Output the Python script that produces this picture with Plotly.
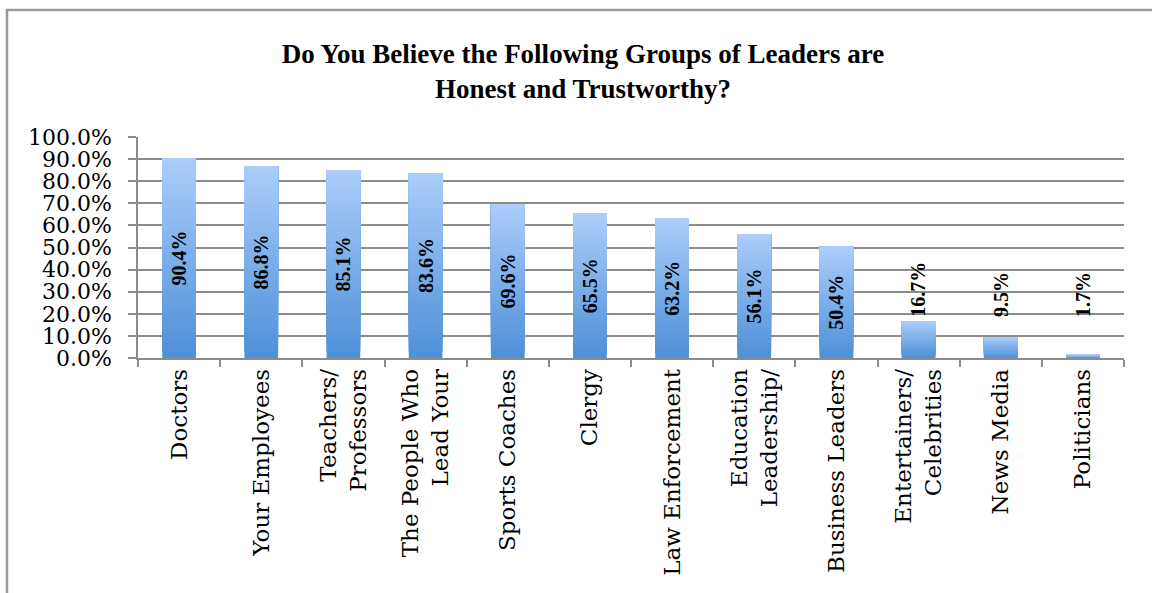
import plotly.graph_objects as go

categories = ["Doctors", "Your Employees", "Teachers/<br>Professors", "The People Who<br>Lead Your",
              "Sports Coaches", "Clergy", "Law Enforcement", "Education<br>Leadership/",
              "Business Leaders", "Entertainers/<br>Celebrities", "News Media", "Politicians"]
values = [90.4, 86.8, 85.1, 83.6, 69.6, 65.5, 63.2, 56.1, 50.4, 16.7, 9.5, 1.7]
y_ticks = [0, 10, 20, 30, 40, 50, 60, 70, 80, 90, 100]
title_text = "Do You Believe the Following Groups of Leaders are<br>Honest and Trustworthy?"

BAR_W = 0.41
N_BANDS = 32
BOTTOM = (79, 144, 216)
TOP = (170, 205, 250)
INSIDE_MIN = 30      # bars at least this tall carry their label inside
OUT_LABEL_Y = 17.8   # level where Excel-style outside labels start

fig = go.Figure()

# gradient: stacked overlay layers, each from a fraction of the bar height up to its top
for k in range(N_BANDS):
    f = k / N_BANDS
    t = k / (N_BANDS - 1)
    col = "rgb(%d,%d,%d)" % tuple(round(BOTTOM[i] + (TOP[i] - BOTTOM[i]) * t) for i in range(3))
    fig.add_trace(go.Bar(
        x=categories, y=[v * (1 - f) for v in values], base=[v * f for v in values],
        width=BAR_W, marker=dict(color=col, line=dict(width=0)),
        hoverinfo="skip", showlegend=False))

# data trace carrying the labels
fig.add_trace(go.Bar(
    x=categories, y=values, width=BAR_W,
    marker=dict(color="rgba(0,0,0,0)", line=dict(width=0)),
    text=[f"{v:.1f}%" if v >= INSIDE_MIN else "" for v in values],
    textposition="inside", insidetextanchor="middle", textangle=-90,
    insidetextfont=dict(family="Liberation Serif", size=20, color="black", weight="bold"),
    showlegend=False))

for c, v in zip(categories, values):
    if v < INSIDE_MIN:
        fig.add_annotation(x=c, y=OUT_LABEL_Y, text=f"<b>{v:.1f}%</b>", textangle=-90,
                           showarrow=False, xanchor="center", yanchor="bottom",
                           font=dict(family="Liberation Serif", size=20, color="black"))

# chart border
fig.add_shape(type="rect", xref="paper", yref="paper",
              x0=-0.1329, x1=1.2, y0=-1.5, y1=1.5747,
              line=dict(color="#9a9a9a", width=2.5), fillcolor="rgba(0,0,0,0)", layer="below")

fig.update_layout(
    width=1152, height=593,
    margin=dict(l=138, r=28, t=137, b=235),
    paper_bgcolor="white", plot_bgcolor="white",
    barmode="overlay",
    title=dict(text="<b>" + title_text + "</b>", x=0.506, xanchor="center", xref="container",
               y=0.894, yanchor="top", yref="container",
               font=dict(family="Liberation Serif", size=27, color="black")),
    xaxis=dict(showline=True, linecolor="#8c8c8c", linewidth=1.5, ticks="outside",
               tickson="boundaries", ticklen=7, tickcolor="#8c8c8c", tickwidth=1.5,
               tickangle=-90, tickfont=dict(family="DejaVu Serif", size=23, color="black"),
               showgrid=False),
    yaxis=dict(range=[0, 100], tickvals=y_ticks, ticktext=[f"{t:.1f}%" for t in y_ticks],
               showline=True, linecolor="#8c8c8c", linewidth=1.5, ticks="outside",
               ticklen=8, tickcolor="#8c8c8c", tickwidth=1.5,
               showgrid=True, gridcolor="#8c8c8c", gridwidth=1.5, zeroline=False,
               tickfont=dict(family="DejaVu Serif", size=22, color="black"),
               ticklabelstandoff=12),
)

fig.write_html("out.html")
